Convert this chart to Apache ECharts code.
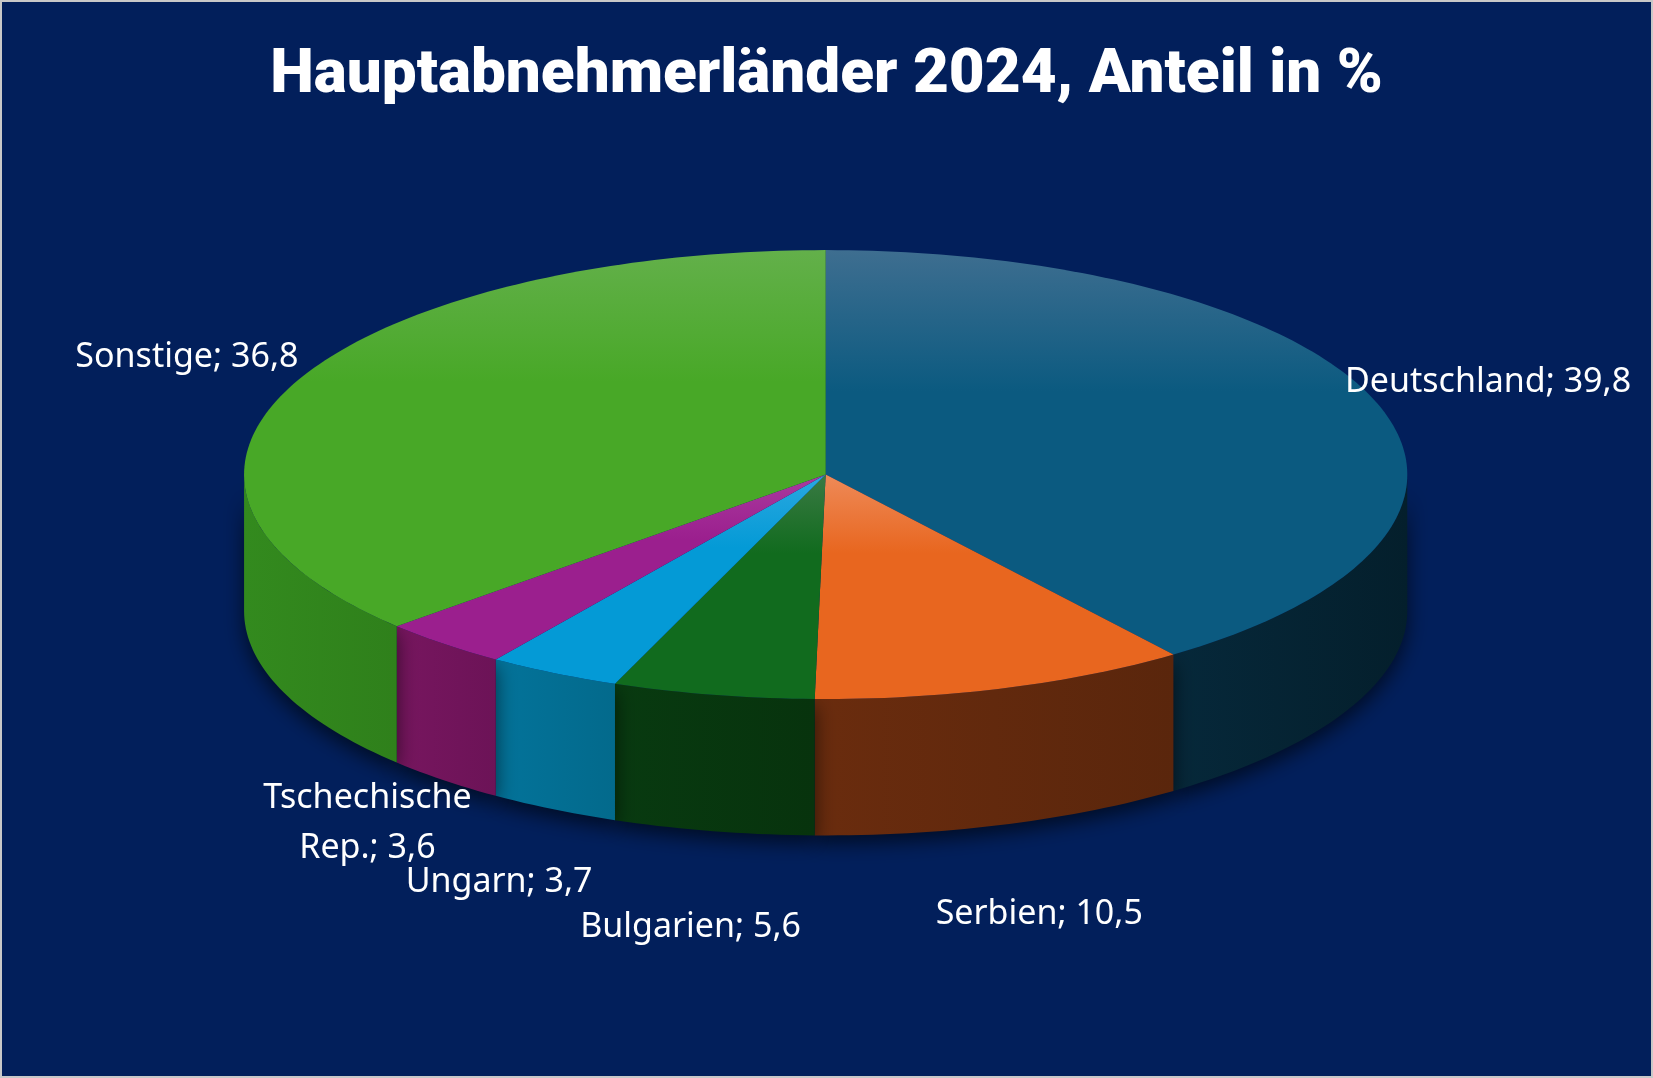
<!DOCTYPE html>
<html>
<head>
<meta charset="utf-8">
<script src="https://cdn.jsdelivr.net/npm/echarts@6/dist/echarts.min.js"></script>
<style>
  html, body { margin: 0; padding: 0; background: #fff; }
  #chart { width: 1649px; height: 1074px; border: 2px solid #c8c8c8; }
</style>
</head>
<body>
<div id="chart"></div>
<script>
const countries = ['Deutschland', 'Serbien', 'Bulgarien', 'Ungarn', 'Tschechische Rep.', 'Sonstige'];
const shares = [39.8, 10.5, 5.6, 3.7, 3.6, 36.8];
const topColors = ['#0b5a80', '#e8661f', '#116b1e', '#049ad6', '#9b1f8e', '#48a827'];
const topLight = ['#3e6e90', '#ee8a58', '#3a7a44', '#2aa8e0', '#aa3a9e', '#63b04a'];
const sideColors = ['#06283a', '#6a2c0e', '#083a10', '#03739a', '#77165f', '#338a1e'];
const sideDark = ['#041f2c', '#5a260c', '#07330d', '#036a8c', '#6c1357', '#2f801b'];

// cumulative angles (radians, clockwise from 12 o'clock)
const total = shares.reduce((a, b) => a + b, 0);
let acc = 0;
const slices = shares.map((v, i) => {
  const a0 = acc / total * Math.PI * 2;
  acc += v;
  const a1 = acc / total * Math.PI * 2;
  return [v, a0, a1, i];
});

function geom(api) {
  const w = api.getWidth(), h = api.getHeight();
  return { cx: w * 0.4995, cy: h * 0.44, rx: w * 0.3527, ry: h * 0.209, d: h * 0.127 };
}
function pt(g, a, dy) {
  return [g.cx + g.rx * Math.sin(a), g.cy - g.ry * Math.cos(a) + (dy || 0)];
}
function arc(g, a0, a1, dy) {
  const pts = [];
  const n = Math.max(2, Math.ceil((a1 - a0) / 0.02));
  for (let k = 0; k <= n; k++) pts.push(pt(g, a0 + (a1 - a0) * k / n, dy));
  return pts;
}
function fmt(v) { return v.toFixed(1).replace('.', ','); }

function renderSide(params, api) {
  const g = geom(api);
  const a0 = api.value(1), a1 = api.value(2), i = api.value(3);
  const s = Math.max(a0, Math.PI / 2), e = Math.min(a1, Math.PI * 1.5);
  if (e <= s) return { type: 'group', children: [] };
  const top = arc(g, s, e, 0);
  const bot = arc(g, s, e, g.d).reverse();
  return {
    type: 'polygon',
    shape: { points: top.concat(bot) },
    style: {
      fill: new echarts.graphic.LinearGradient(0, 0, 1, 0, [
        { offset: 0, color: sideColors[i] },
        { offset: 1, color: sideDark[i] }
      ]),
      shadowBlur: 20, shadowColor: 'rgba(0,0,0,0.6)', shadowOffsetY: 8
    }
  };
}

function renderTop(params, api) {
  const g = geom(api);
  const a0 = api.value(1), a1 = api.value(2), i = api.value(3), v = api.value(0);
  const pts = [[g.cx, g.cy]].concat(arc(g, a0, a1, 0));
  const mid = (a0 + a1) / 2;
  const front = -Math.cos(mid);
  const lx = g.cx + g.rx * 1.2 * Math.sin(mid);
  const ly = g.cy - g.ry * (front > 0 ? 1.45 : 1.3) * Math.cos(mid) + (front > 0 ? g.d * front : 0);
  let name = countries[i];
  if (name.length > 12) name = name.replace(' ', '\n');
  return {
    type: 'group',
    children: [
      {
        type: 'polygon',
        shape: { points: pts },
        style: {
          fill: new echarts.graphic.LinearGradient(0, 0, 0, 1, [
            { offset: 0, color: topLight[i] },
            { offset: 0.35, color: topColors[i] },
            { offset: 1, color: topColors[i] }
          ])
        }
      },
      {
        type: 'text',
        x: lx, y: ly,
        style: {
          text: name + '; ' + fmt(v),
          fill: '#ffffff',
          font: '34px "Noto Sans", sans-serif',
          align: 'center', verticalAlign: 'middle',
          lineHeight: 50
        }
      }
    ]
  };
}

const chart = echarts.init(document.getElementById('chart'));
chart.setOption({
  backgroundColor: '#021f5b',
  animation: false,
  title: {
    text: 'Hauptabnehmerländer 2024, Anteil in %',
    left: 'center', top: 38,
    textStyle: { color: '#fff', fontSize: 62, fontWeight: 900, fontFamily: '"Liberation Sans Narrow", Roboto, sans-serif' }
  },
  series: [
    { type: 'custom', coordinateSystem: 'none', renderItem: renderSide, data: slices, silent: true },
    { type: 'custom', coordinateSystem: 'none', renderItem: renderTop, data: slices, silent: true }
  ]
});
window.addEventListener('resize', () => chart.resize());
</script>
</body>
</html>
